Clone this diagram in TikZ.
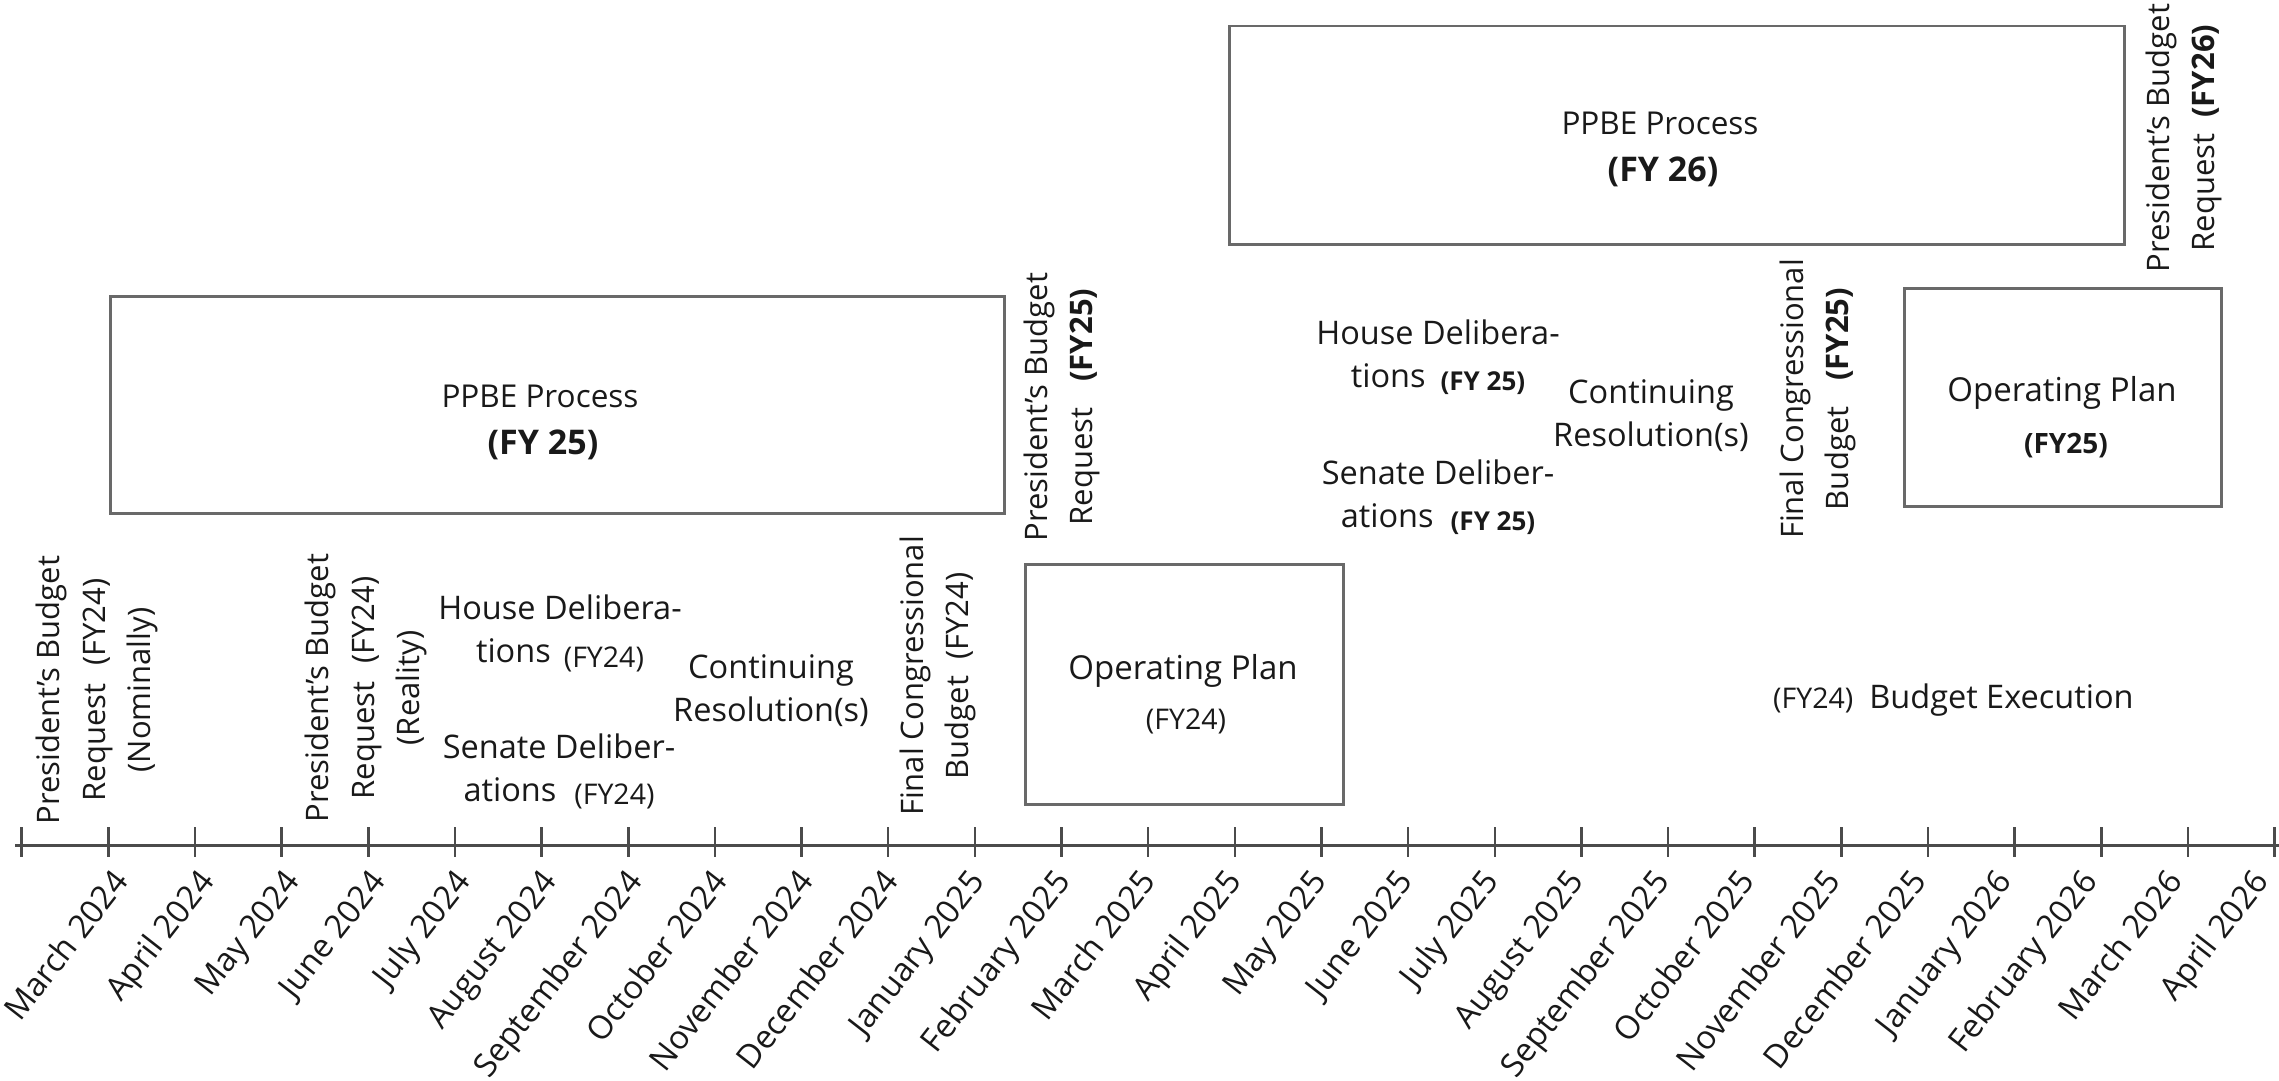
\documentclass[tikz,border=0pt]{standalone}
\usepackage{fontspec}
\setmainfont{Open Sans}
\definecolor{boxgray}{RGB}{105,105,105}
\definecolor{axgray}{RGB}{75,75,75}
\definecolor{txt}{RGB}{25,25,25}
\newcommand{\fyr}{\fontsize{28.5}{28.5}\selectfont}
\newcommand{\fyb}{\bfseries\fontsize{26}{26}\selectfont}
\begin{document}
\begin{tikzpicture}[x=1pt,y=-1pt,
  box/.style={draw=boxgray, line width=2.5pt, inner sep=0, anchor=north west},
  hl/.style={text=txt, inner sep=0, align=center, font=\fontsize{32.5}{43}\selectfont},
  boxt/.style={text=txt, inner sep=0, font=\fontsize{32}{32}\selectfont},
  boxfy/.style={text=txt, inner sep=0, font=\bfseries\fontsize{34}{34}\selectfont},
  vl/.style={text=txt, inner sep=0, align=center, rotate=90, font=\fontsize{31}{45.5}\selectfont},
  mon/.style={text=txt, inner sep=0, rotate=52, anchor=base east, font=\fontsize{32.5}{32.5}\selectfont},
  axisline/.style={draw=axgray, line width=3pt},
  tickline/.style={draw=axgray, line width=2.5pt}]
\useasboundingbox (0,0) rectangle (2279,1081);

% boxes
\node[box, minimum width=894pt, minimum height=217pt] (ppbe25) at (109,295) {};
\node[box, minimum width=895pt, minimum height=218pt] (ppbe26) at (1228,25) {};
\node[box, minimum width=318pt, minimum height=240pt] (op24) at (1024,563) {};
\node[box, minimum width=317pt, minimum height=218pt] (op25) at (1903,287) {};

% box texts
\node[boxt, font=\fontsize{31.5}{31.5}\selectfont] (ppbe25a) at (540,396) {PPBE Process};
\node[boxfy] (ppbe25b) at (543,445) {(FY 25)};
\node[boxt, font=\fontsize{31.5}{31.5}\selectfont] (ppbe26a) at (1660,123) {PPBE Process};
\node[boxfy] (ppbe26b) at (1663,172) {(FY 26)};
\node[boxt, font=\fontsize{33}{33}\selectfont] (op24a) at (1183,671) {Operating Plan};
\node[boxt, font=\fyr] (op24b) at (1186,721) {(FY24)};
\node[boxt, font=\fontsize{33}{33}\selectfont] (op25a) at (2062,393) {Operating Plan};
\node[boxt, font=\bfseries\fontsize{28}{28}\selectfont] (op25b) at (2066,446) {(FY25)};

% vertical labels
\node[vl] (pbA) at (97,690) {President’s Budget\\Request\hspace{18pt}(FY24)\\(Nominally)};
\node[vl] (pbB) at (366,688) {President’s Budget\\Request\hspace{18pt}(FY24)\\(Reality)};
\node[vl] (fcA) at (938,676) {Final Congressional\\Budget\hspace{16pt}(FY24)};
\node[vl] (pbC) at (1062,407) {President’s Budget\\Request\hspace{26pt}\textbf{(FY25)}};
\node[vl] (fcB) at (1818,399) {Final Congressional\\Budget\hspace{26pt}\textbf{(FY25)}};
\node[vl] (pbD) at (2184,138) {President’s Budget\\Request\hspace{16pt}\textbf{(FY26)}};

% horizontal labels
\node[hl] (houseA) at (560,633) {House Delibera-\\tions\hspace{13pt}\raisebox{-5pt}{\fyr (FY24)}};
\node[hl] (senA) at (559,771) {Senate Deliber-\\ations\hspace{18pt}\raisebox{-3pt}{\fyr (FY24)}};
\node[hl] (crA) at (771,691) {Continuing\\Resolution(s)};
\node[hl] (houseB) at (1438,357) {House Delibera-\\tions\hspace{15pt}\raisebox{-3pt}{\fyb (FY 25)}};
\node[hl] (senB) at (1438,497) {Senate Deliber-\\ations\hspace{17pt}\raisebox{-3pt}{\fyb (FY 25)}};
\node[hl] (crB) at (1651,416) {Continuing\\Resolution(s)};
\node[hl, anchor=base west] (exec) at (1773,708) {{\fyr (FY24)}\hspace{16pt}Budget Execution};

% axis
\coordinate (axL) at (15,845);
\coordinate (axR) at (2279,845);
\draw[axisline] (axL) -- (axR);
\foreach \k in {0,...,26} {
  \draw[tickline] ({21.7+86.65*\k},827) -- ({21.7+86.65*\k},857);
}
\foreach \m [count=\i] in {March 2024, April 2024, May 2024, June 2024, July 2024, August 2024, September 2024, October 2024, November 2024, December 2024, January 2025, February 2025, March 2025, April 2025, May 2025, June 2025, July 2025, August 2025, September 2025, October 2025, November 2025, December 2025, January 2026, February 2026, March 2026, April 2026} {
  \node[mon] (mon\i) at ({130+85.6*(\i-1)},882) {\m};
}
\end{tikzpicture}
\end{document}
